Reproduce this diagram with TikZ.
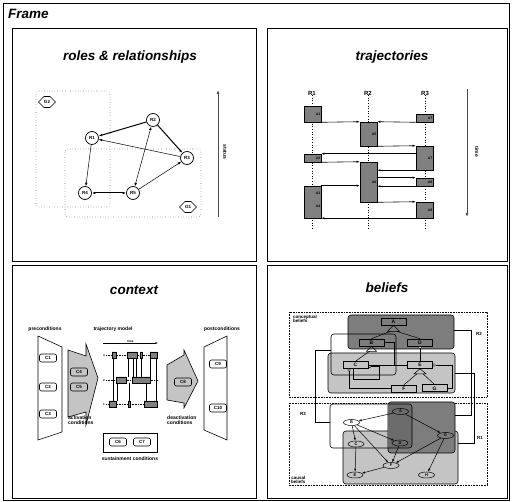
\documentclass[tikz,border=0pt]{standalone}
\usepackage{fontspec}
\setmainfont{Liberation Sans}
\usepackage{tikz}
\usetikzlibrary{arrows.meta,calc,positioning,shapes.geometric,shapes.symbols}
\definecolor{actgray}{RGB}{128,128,128}
\definecolor{darkgrp}{RGB}{125,125,125}
\definecolor{lightgrp}{RGB}{196,196,196}
\definecolor{overlapgrp}{RGB}{108,108,108}

\tikzset{
  panel/.style={draw,line width=0.8pt},
  ptitle/.style={font=\fontsize{13.5}{14}\selectfont\bfseries\itshape,inner sep=0pt},
  small/.style={font=\fontsize{5}{5.5}\selectfont\bfseries,inner sep=0pt},
  role/.style={circle,draw,fill=white,line width=0.7pt,minimum size=13pt,inner sep=0pt,font=\fontsize{4.5}{5}\selectfont\bfseries},
  goal/.style={signal,signal to=east and west,draw,fill=white,line width=0.6pt,minimum width=17pt,minimum height=11pt,inner sep=0pt,font=\fontsize{4.5}{5}\selectfont\bfseries},
  group/.style={draw=gray,dotted,line width=0.6pt,rounded corners=3pt},
  rel/.style={-{Latex[length=3.5pt,width=2.5pt]},line width=0.5pt},
  act/.style={draw,fill=actgray,line width=0.6pt,minimum width=17pt,inner sep=0pt},
  actlbl/.style={font=\fontsize{3.5}{4}\selectfont\bfseries,inner sep=0.8pt},
  msg/.style={-{Latex[length=3pt,width=2.2pt]},line width=0.6pt},
  lifeline/.style={dotted,line width=0.6pt},
  cond/.style={draw,rounded corners=2pt,line width=0.6pt,minimum width=17pt,minimum height=8pt,inner sep=0pt,font=\fontsize{4.5}{5}\selectfont\bfseries},
  concept/.style={draw,line width=0.6pt,minimum width=25pt,minimum height=7pt,inner sep=0pt,font=\fontsize{5}{5}\selectfont\bfseries},
  cause/.style={ellipse,draw,line width=0.5pt,minimum width=16pt,minimum height=6pt,inner sep=0pt,font=\fontsize{4}{4}\selectfont\bfseries},
  port/.style={circle,draw,fill=white,line width=0.4pt,minimum size=2.6pt,inner sep=0pt},
  causal/.style={-{Latex[length=3pt,width=2.2pt]},line width=0.5pt}
}

\begin{document}
\begin{tikzpicture}[x=1pt,y=-1pt]
  \useasboundingbox (0,0) rectangle (512,502);
  % outer frame and the four panels
  \draw[panel] (3,3) rectangle (509,500);
  \node[ptitle,anchor=west] (frametitle) at (8,14) {Frame};
  \draw[panel] (12,28) rectangle (256,261);
  \draw[panel] (267,28) rectangle (507,261);
  \draw[panel] (12,265) rectangle (256,498);
  \draw[panel] (267,265) rectangle (507,498);

  % ---- roles & relationships
  \node[ptitle] (rolestitle) at (130,57) {roles \& relationships};
  \draw[group] (36,91) rectangle (110,207);
  \draw[group] (65,149) rectangle (201,217);
  \node[goal] (g2) at (47,102) {G2};
  \node[goal] (g1) at (188,207) {G1};
  \node[role] (r1) at (92,138) {R1};
  \node[role] (r2) at (153,120) {R2};
  \node[role] (r3) at (187,158) {R3};
  \node[role] (r4) at (85,193) {R4};
  \node[role] (r5) at (133,193) {R5};
  \draw[rel,line width=1pt] (r2) -- (r1);
  \draw[rel,line width=1pt] (r2) -- (r3);
  \draw[rel] (r3) -- (r1);
  \draw[rel] (r1) -- (r4);
  \draw[rel,{Latex[length=3.5pt,width=2.5pt]}-{Latex[length=3.5pt,width=2.5pt]},line width=1pt] (r4) -- (r5);
  \draw[rel,{Latex[length=3.5pt,width=2.5pt]}-{Latex[length=3.5pt,width=2.5pt]}] (r2) -- (r5);
  \draw[rel] (r5) -- (r3);
  \coordinate (statuslo) at (218,217);
  \coordinate (statushi) at (218,90);
  \draw[-{Latex[length=4pt,width=3pt]},line width=0.8pt,black!70] (statuslo) -- (statushi);
  \node[small,rotate=-90] (statuslbl) at (225,152) {status};

  % ---- trajectories
  \node[ptitle] (trajtitle) at (392,57) {trajectories};
  \node[font=\fontsize{6}{6}\selectfont\bfseries,inner sep=0pt] (l1) at (312,93) {R1};
  \node[font=\fontsize{6}{6}\selectfont\bfseries,inner sep=0pt] (l2) at (368,93) {R2};
  \node[font=\fontsize{6}{6}\selectfont\bfseries,inner sep=0pt] (l3) at (425,93) {R3};
  \coordinate (e1) at (312,228);
  \coordinate (e2) at (368,228);
  \coordinate (e3) at (425,228);
  \draw[lifeline] (l1.south) -- (e1);
  \draw[lifeline] (l2.south) -- (e2);
  \draw[lifeline] (l3.south) -- (e3);
  \node[act,minimum height=16pt] (a1) at (312.5,114) {};
  \node[act,minimum height=8pt] (a7t) at (424.5,118) {};
  \node[act,minimum height=24pt] (a5) at (368.5,134) {};
  \node[act,minimum height=24pt] (a7) at (424.5,158) {};
  \node[act,minimum height=8pt] (a2) at (312.5,158) {};
  \node[act,minimum height=40pt] (a6) at (368.5,182) {};
  \node[act,minimum height=8pt] (a8) at (424.5,182) {};
  \node[act,minimum height=32pt] (a34) at (312.5,202) {};
  \node[act,minimum height=16pt] (a9) at (424.5,210) {};
  \node[actlbl,anchor=east] (la1) at (a1.east) {A1};
  \node[actlbl,anchor=east] (la7t) at (a7t.east) {A7};
  \node[actlbl,anchor=east] (la5) at (a5.east) {A5};
  \node[actlbl,anchor=east] (la7) at (a7.east) {A7};
  \node[actlbl,anchor=east] (la2) at (a2.east) {A2};
  \node[actlbl,anchor=east] (la6) at (a6.east) {A6};
  \node[actlbl,anchor=east] (la8) at (a8.east) {A8};
  \node[actlbl,anchor=east] (la3) at ($(a34.east)+(0,-9)$) {A3};
  \node[actlbl,anchor=east] (la4) at ($(a34.east)+(0,4)$) {A4};
  \node[actlbl,anchor=east] (la9) at (a9.east) {A9};
  \draw[msg] (a1.south east) -- (a5.north west);
  \draw[msg] (a7t.south west) -- (a5.north east);
  \draw[msg] (a5.south east) -- (a7.north west);
  \draw[msg] (a7.west |- a2.north) -- (a2.north east);
  \draw[msg] (a2.south east) -- (a6.north west);
  \draw[msg] (a7.south west) -- (a7.south west -| a6.east);
  \draw[msg] (a6.east |- a8.north) -- (a8.north west);
  \draw[msg] (a8.south west) -- (a8.south west -| a6.east);
  \draw[msg] (a34.north east) -- (a34.north east -| a6.west);
  \draw[msg] (a6.south east) -- (a9.north west);
  \draw[msg] (a9.south west) -- (a34.south east);
  \coordinate (timetop) at (467,89);
  \coordinate (timebot) at (467,217);
  \draw[-{Latex[length=4pt,width=3pt]},line width=0.8pt,black!70] (timetop) -- (timebot);
  \node[small,rotate=-90] (timelbl) at (477,152) {time};

  % ---- context
  \node[ptitle] (ctxtitle) at (134,290) {context};
  \node[small] (prelbl) at (45,329) {preconditions};
  \node[small] (tmlbl) at (113,329) {trajectory model};
  \node[small] (postlbl) at (222,329) {postconditions};
  \draw[line width=0.6pt] (38,336) -- (62,347) -- (62,432) -- (38,440) -- cycle;
  \node[cond] (c1) at (48,358) {C1};
  \node[cond] (c2) at (48,387) {C2};
  \node[cond] (c3) at (48,414) {C3};
  \draw[line width=0.6pt,fill=lightgrp] (68,350) -- (86,356) -- (86,344) -- (98,378) -- (86,425) -- (86,412) -- (68,417) -- cycle;
  \node[cond] (c4) at (79,372) {C4};
  \node[cond] (c5) at (79,387) {C5};
  \node[small,align=left,anchor=north west,font=\fontsize{5}{5}\selectfont\bfseries] (actlbl) at (68,416) {activation\\conditions};
  % trajectory model
  \coordinate (tmstart) at (103,343);
  \coordinate (tmend) at (158,343);
  \draw[-{Latex[length=2.5pt,width=2pt]},line width=0.5pt] (tmstart) -- (tmend) node[midway,above=0.5pt,font=\fontsize{3}{3}\selectfont\bfseries,inner sep=0pt] (tmtime) {time};
  \node[font=\fontsize{3}{3}\selectfont\bfseries,inner sep=0pt] (tr3) at (104,355) {3};
  \node[font=\fontsize{3}{3}\selectfont\bfseries,inner sep=0pt] (tr2) at (104,380) {2};
  \node[font=\fontsize{3}{3}\selectfont\bfseries,inner sep=0pt] (tr1) at (104,404) {1};
  \draw[densely dotted,line width=0.6pt] (106,355) -- (158,355) (106,380) -- (158,380) (106,404) -- (158,404);
  \draw[line width=0.5pt] (113,358) -- (113,401) (117,383) -- (117,401) (128,358) -- (128,377)
    (129,383) -- (129,401) (133,358) -- (133,377) (136,358) -- (136,377) (141,358) -- (141,377)
    (146,383) -- (146,401) (150,358) -- (150,377) (156,358) -- (156,401);
  \draw[fill=actgray,line width=0.5pt] (112,352) rectangle (116,358) (127,352) rectangle (137,358)
    (140,352) rectangle (142,358) (150,352) rectangle (157,358)
    (116,377) rectangle (126,383) (132,377) rectangle (150,383)
    (109,401) rectangle (116,407) (128,401) rectangle (130,407) (144,401) rectangle (157,407);
  \draw[line width=0.6pt] (103,433) rectangle (157,452);
  \node[cond] (c6) at (118,442) {C6};
  \node[cond] (c7) at (142,442) {C7};
  \node[small] (suslbl) at (130,459) {sustainment conditions};
  \draw[line width=0.6pt,fill=lightgrp] (167,365) -- (184,355) -- (184,350) -- (198,381) -- (184,408) -- (184,403) -- (167,400) -- cycle;
  \node[cond] (c8) at (183,382) {C8};
  \node[small,align=left,anchor=north west,font=\fontsize{5}{5}\selectfont\bfseries] (deactlbl) at (167,416) {deactivation\\conditions};
  \draw[line width=0.6pt] (204,347) -- (227,336) -- (227,440) -- (204,430) -- cycle;
  \node[cond] (c9) at (218,364) {C9};
  \node[cond] (c10) at (218,408) {C10};

  % ---- beliefs
  \node[ptitle] (beltitle) at (387,288) {beliefs};
  \draw[densely dotted,line width=0.6pt] (289,312) rectangle (487,397);
  \draw[densely dotted,line width=0.6pt] (289,403) rectangle (487,485);
  \node[small,align=left,anchor=north west,font=\fontsize{4.5}{4.5}\selectfont\bfseries] (conclbl) at (293,315) {conceptual\\beliefs};
  \node[small,align=center,anchor=south west,font=\fontsize{4.5}{4.5}\selectfont\bfseries] (causlbl) at (291,484) {causal\\beliefs};
  % conceptual groups
  \draw[fill=darkgrp,line width=0.6pt,rounded corners=3pt] (348,315) rectangle (454,349);
  \draw[fill=lightgrp,line width=0.6pt,rounded corners=3pt] (328,353) rectangle (455,393);
  \draw[line width=0.6pt,rounded corners=3pt] (331,334) rectangle (396,375);
  \node[concept] (ca) at (393.5,321.5) {A};
  \node[concept] (cb) at (371.5,342.5) {B};
  \node[concept] (cd) at (420,342.5) {D};
  \node[concept] (cc) at (355.5,365) {C};
  \node[concept] (ce) at (420,365) {E};
  \node[concept] (cf) at (404,388.5) {F};
  \node[concept,line width=1pt] (cg) at (434.5,388.5) {G};
  \draw[line width=0.5pt] (ca.south) -- ++(6,6) -- ++(-12,0) -- cycle;
  \draw[line width=0.5pt] ($(ca.south)+(-3,6)$) -- (cb.north);
  \draw[line width=0.5pt] ($(ca.south)+(3,6)$) -- (cd.north);
  \draw[line width=0.5pt] (cb.south) -- ++(5,5) -- ++(-10,0) -- cycle;
  \draw[line width=0.5pt] ($(cb.south)+(-2,5)$) -- (cc.north);
  \draw[line width=0.5pt] (ce.south) -- ++(6,5) -- ++(-12,0) -- cycle;
  \draw[line width=0.5pt] ($(ce.south)+(-3,5)$) -- (cf.north);
  \draw[line width=0.5pt] ($(ce.south)+(3,5)$) -- (cg.north);
  \node[port] (pcr) at (369.8,366.5) {};
  \node[port] (pcb) at (349,370) {};
  \node[port] (pdb) at (420,347.5) {};
  \node[port] (per) at (434,365) {};
  \draw[line width=0.5pt] (cb.east) -- ++(10,0) |- (ce.west);
  \draw[line width=0.5pt] (cc.east) -- (ce.west);
  \draw[line width=0.5pt] (pcr.east) -- ++(8,0) |- ($(cc.south)+(-2,10)$) -- ($(cc.south)+(-2,0)$);
  \draw[line width=0.5pt] (pcb.south) |- (cf.west);
  \draw[line width=0.5pt] (pdb.south) -- (ce.north);
  \draw[line width=0.5pt] (per.east) -- ++(17,0) |- (cg.east);
  % causal groups
  \draw[fill=lightgrp,line width=0.6pt,rounded corners=3pt] (343,431) rectangle (458,484);
  \draw[fill=darkgrp,line width=0.6pt,rounded corners=3pt] (388,402) rectangle (455,453);
  \begin{scope}
    \clip[rounded corners=3pt] (330,404) rectangle (412,448);
    \fill[overlapgrp,rounded corners=3pt] (388,402) rectangle (455,453);
  \end{scope}
  \draw[line width=0.6pt,rounded corners=3pt] (330,404) rectangle (412,448);
  \node[cause] (ka) at (400.5,411.5) {A};
  \node[cause] (kb) at (351.5,422.5) {B};
  \node[cause] (kc) at (356,444) {C};
  \node[cause] (kd) at (400,443) {D};
  \node[cause] (kg) at (445.5,435.5) {G};
  \node[cause] (kf) at (391,465.5) {F};
  \node[cause] (ke) at (355,475) {E};
  \node[cause] (kh) at (426.5,475) {H};
  \draw[causal] (ka) -- (kb);
  \draw[causal] (ka) -- (kg);
  \draw[causal] (kb) -- (kc);
  \draw[causal] (kb) -- (kd);
  \draw[causal] (kb) -- (kf);
  \draw[causal] (kc) -- (ke);
  \draw[causal] (kd) -- (kf);
  \draw[causal] (kg) -- (kf);
  \draw[causal] (kg) -- (kh);
  \draw[causal] (kf) -- (ke);
  % role links between the two layers
  \coordinate (r2top) at (454,330);
  \coordinate (r2bot) at (455,415);
  \coordinate (r1top) at (455,373);
  \coordinate (r1bot) at (458,443);
  \coordinate (r3top) at (331,350);
  \coordinate (r3bot) at (330,422);
  \draw[line width=0.6pt] (r2top) -- (471,330) |- (r2bot);
  \draw[line width=0.6pt] (r1top) -- (474,373) |- (r1bot);
  \draw[line width=0.6pt] (r3top) -- (315,350) |- (r3bot);
  \node[small,font=\fontsize{4.5}{4.5}\selectfont\bfseries] (r2lbl) at (479,334) {R2};
  \node[small,font=\fontsize{4.5}{4.5}\selectfont\bfseries] (r1lbl) at (480,438) {R1};
  \node[small,font=\fontsize{4.5}{4.5}\selectfont\bfseries] (r3lbl) at (303,414) {R3};
\end{tikzpicture}
\end{document}
